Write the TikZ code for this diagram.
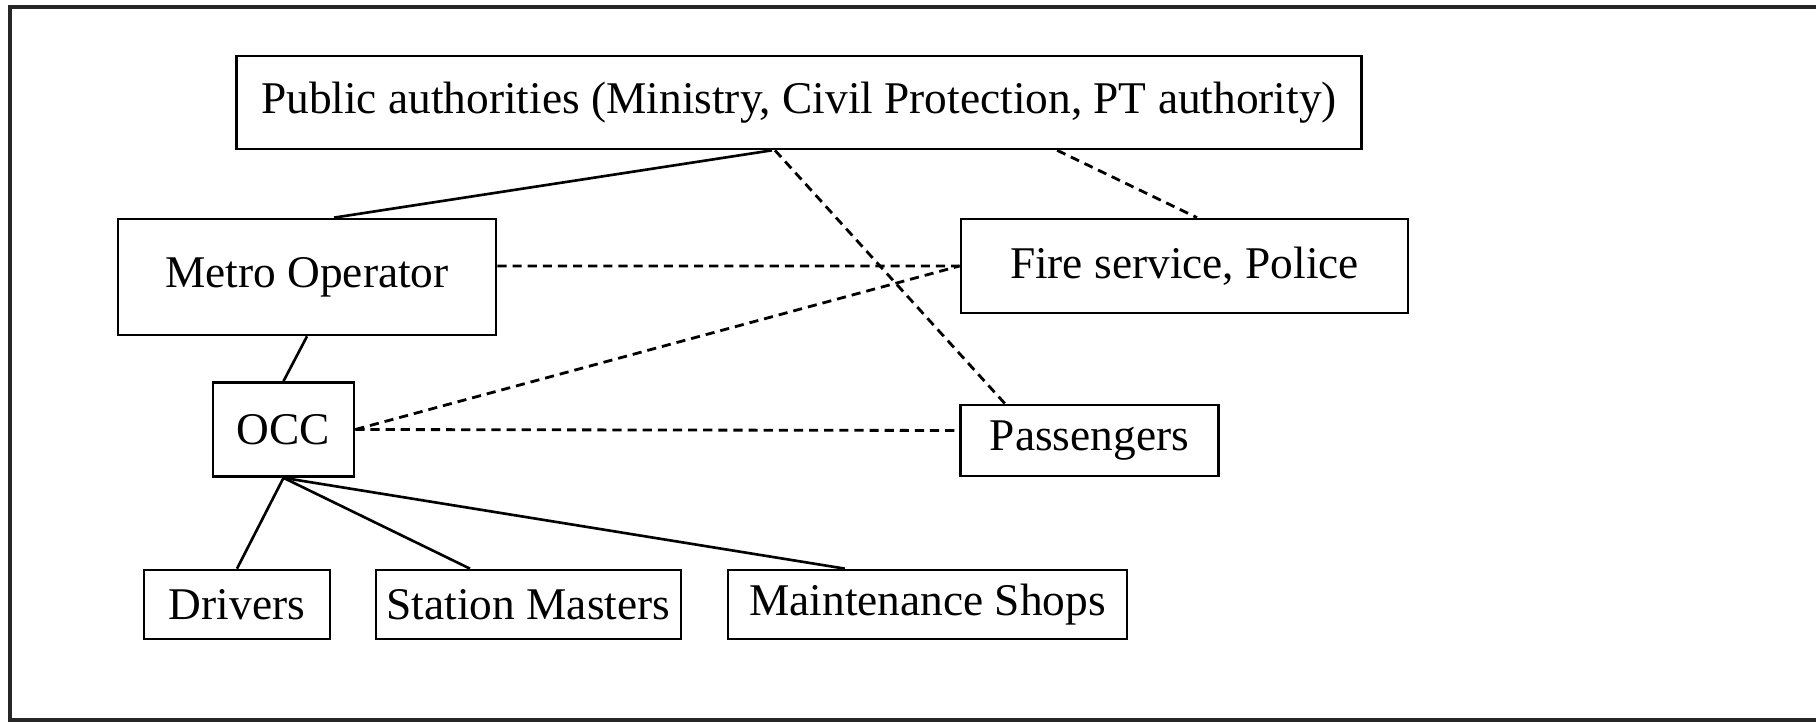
\documentclass[tikz,border=0pt]{standalone}
\usepackage{fontspec}
\setmainfont{Liberation Serif}
\begin{document}
\begin{tikzpicture}[x=0.01cm,y=-0.01cm,
  box/.style={draw,line width=0.75pt,inner sep=0pt,font=\fontsize{12.9}{15}\selectfont},
  link/.style={line width=0.75pt},
  dlink/.style={line width=0.8pt,dash pattern=on 2.6pt off 1.7pt}]
  \useasboundingbox (0,0) rectangle (1816,722);
  \draw[line width=1pt,black!85] (1816,7) -- (10,7) -- (10,720) -- (1816,720);
  \node[box,minimum width=11.24cm,minimum height=0.93cm] (pub) at (799,102.5) {Public authorities (Ministry, Civil Protection, PT authority)};
  \node[box,minimum width=3.78cm,minimum height=1.16cm] (metro) at (307,277) {Metro Operator\hspace{0.25cm}};
  \node[box,minimum width=4.47cm,minimum height=0.94cm] (fire) at (1184.5,266) {Fire service, Police};
  \node[box,minimum width=1.41cm,minimum height=0.94cm] (occ) at (283.5,429.5) {OCC};
  \node[box,minimum width=2.58cm,minimum height=0.71cm] (pass) at (1089.5,440.5) {Passengers};
  \node[box,minimum width=1.86cm,minimum height=0.69cm] (drv) at (237,604.5) {Drivers};
  \node[box,minimum width=3.05cm,minimum height=0.69cm] (stm) at (528.5,604.5) {Station Masters};
  \node[box,minimum width=3.99cm,minimum height=0.69cm] (mnt) at (927.5,604.5) {Maintenance Shops};
  \draw[link] ([xshift=-0.27cm]pub.south) -- ([xshift=0.27cm]metro.north);
  \draw[dlink] ([xshift=-0.24cm]pub.south) -- ([xshift=-0.845cm]pass.north);
  \draw[dlink] ([xshift=2.58cm]pub.south) -- ([xshift=0.125cm]fire.north);
  \draw[dlink] ([yshift=0.11cm]metro.east) -- (fire.west);
  \draw[link] (metro.south) -- (occ.north);
  \draw[dlink] (occ.east) -- (fire.west);
  \draw[dlink] (occ.east) -- ([yshift=0.1cm]pass.west);
  \draw[link] (occ.south) -- (drv.north);
  \draw[link] (occ.south) -- ([xshift=-0.585cm]stm.north);
  \draw[link] (occ.south) -- ([xshift=-0.825cm]mnt.north);
\end{tikzpicture}
\end{document}
